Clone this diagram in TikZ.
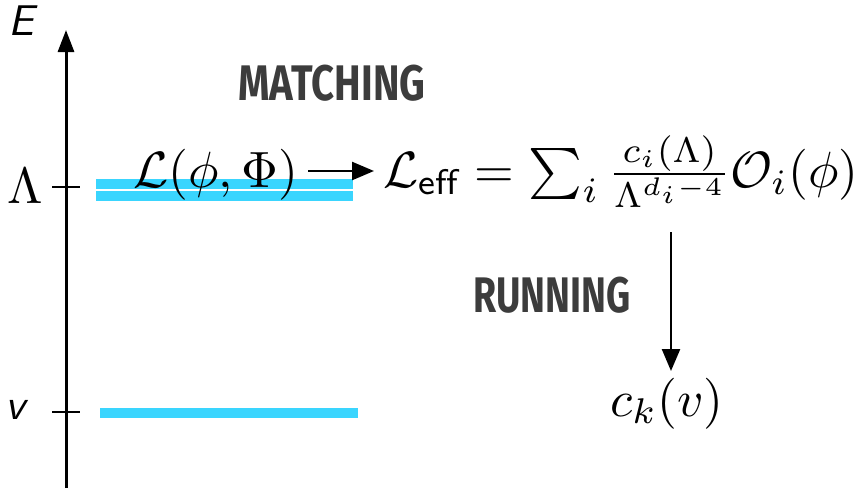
\documentclass[tikz,border=0pt]{standalone}
\usepackage{fontspec}
\usetikzlibrary{arrows.meta}
\newfontfamily\brushfont{Fira Sans}
\definecolor{barblue}{HTML}{3AD5FE}
\definecolor{brushgray}{HTML}{3C3C3C}
\begin{document}
\begin{tikzpicture}[x=1pt,y=-1pt,
  axisline/.style={line width=3pt,-{Triangle[length=22pt,width=16pt]}},
  tickline/.style={line width=2.5pt},
  bar/.style={line width=10pt,barblue},
  bigmath/.style={inner sep=0pt,scale=5.1},
  axlabel/.style={inner sep=0pt,scale=4.3,font=\sffamily\itshape},
  brush/.style={inner sep=0pt,text=brushgray,font=\fontsize{50}{55}\selectfont\brushfont\bfseries},
  flowarrow/.style={line width=2.5pt,-{Triangle[length=22pt,width=18pt]}}]
\useasboundingbox (0,0) rectangle (863,488);
% axis
\coordinate (axbot) at (66,488);
\coordinate (axtop) at (66,30);
\draw[axisline] (axbot) -- (axtop);
\node[axlabel,anchor=base] (E) at (21,35) {E};
% ticks
\coordinate (tL1) at (52,187); \coordinate (tL2) at (80,187);
\coordinate (tv1) at (52,412); \coordinate (tv2) at (80,412);
\draw[tickline] (tL1) -- (tL2);
\draw[tickline] (tv1) -- (tv2);
\node[bigmath,anchor=base] (Lam) at (25,203) {$\Lambda$};
\node[axlabel,anchor=base] (v) at (15,419) {v};
% bars
\coordinate (b1a) at (96,184); \coordinate (b1b) at (353,184);
\coordinate (b2a) at (96,196); \coordinate (b2b) at (353,196);
\coordinate (b3a) at (100,413); \coordinate (b3b) at (358,413);
\draw[bar] (b1a) -- (b1b);
\draw[bar] (b2a) -- (b2b);
\draw[bar] (b3a) -- (b3b);
% formulas
\node[bigmath,anchor=base] (Lfull) at (216,187) {$\mathcal{L}(\phi,\Phi)$};
\node[bigmath,anchor=base west] (Leff) at (382,187) {$\mathcal{L}_{\mathsf{eff}}=\sum_i\frac{c_i(\Lambda)}{\Lambda^{d_i-4}}\mathcal{O}_i(\phi)$};
\coordinate (a1) at (308,171);
\coordinate (a2) at (374,171);
\draw[flowarrow] (a1) -- (a2);
\coordinate (r1) at (671,232);
\node[bigmath,anchor=base] (ck) at (667,416) {$c_k(v)$};
\draw[flowarrow] (r1) -- (671,371) coordinate (r2);
% labels
\node[brush,xscale=0.8] (match) at (332,83) {MATCHING};
\node[brush,xscale=0.75] (run) at (552,295) {RUNNING};
\end{tikzpicture}
\end{document}
